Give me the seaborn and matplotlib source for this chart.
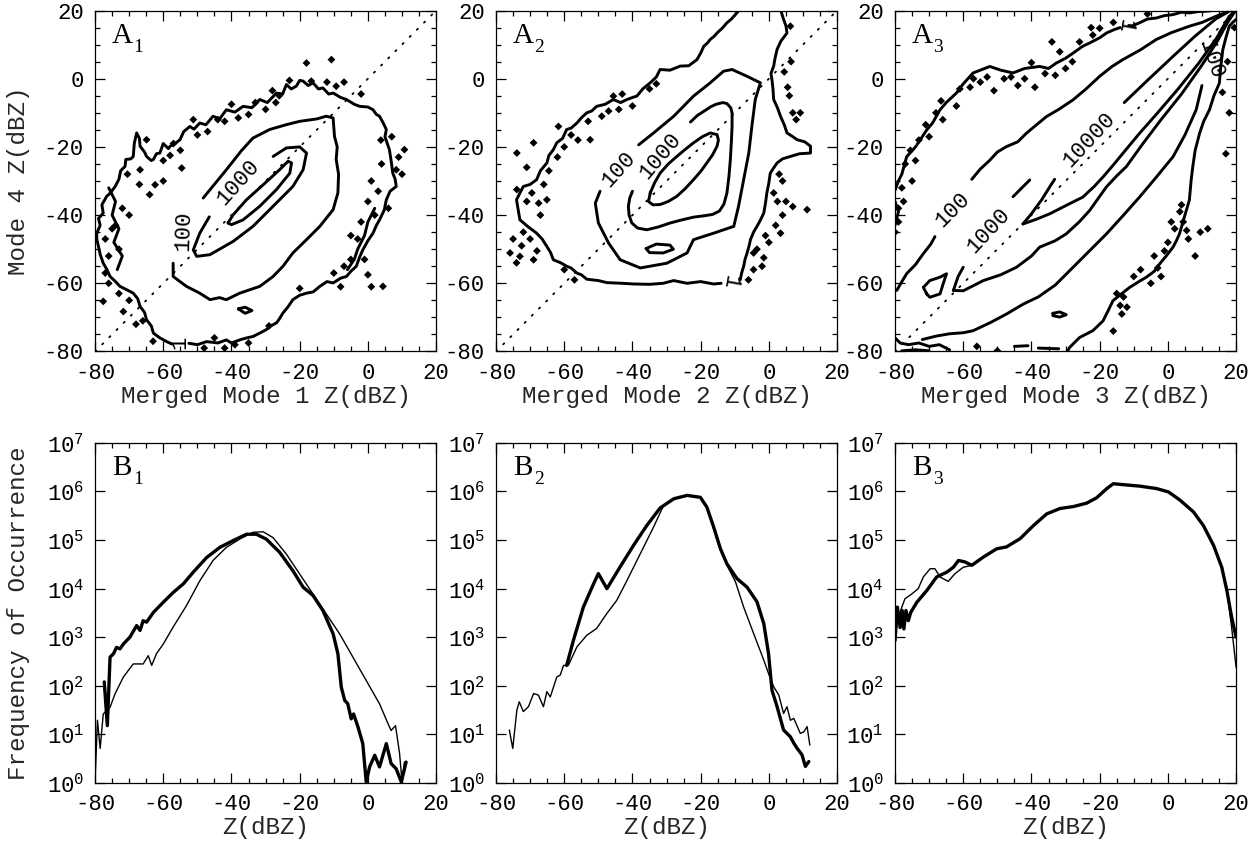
import numpy as np
import pandas as pd
import matplotlib
matplotlib.use("Agg")
import matplotlib.pyplot as plt
import seaborn as sns

# ---------------------------------------------------------------------------
# Joint-occurrence contours (Z in dBZ), one set of polylines per level
# ---------------------------------------------------------------------------
# Panel A1: Mode 4 vs merged Mode 1
A1_L10000 = [(-41.0, -42.3), (-39.5, -39.9), (-35.6, -35.5), (-30.7, -31.1), (-25.9, -26.7),
             (-23.4, -24.2), (-22.4, -24.7), (-22.9, -27.7), (-26.8, -32.5), (-31.7, -37.4),
             (-36.6, -41.4), (-40.0, -42.8), (-41.0, -42.3)]
A1_L1000 = [(-27.8, -22.8), (-23.9, -20.3), (-20.0, -20.0), (-18.0, -21.8), (-19.0, -26.7),
            (-22.0, -31.6), (-27.8, -37.4), (-33.7, -43.3), (-39.5, -47.7), (-46.3, -51.6),
            (-50.2, -52.1), (-51.2, -50.2), (-49.3, -45.3), (-46.5, -40.5)]
A1_L100 = [(-48.3, -35.0), (-41.5, -26.7), (-37.0, -21.0), (-33.7, -17.4), (-28.8, -14.9),
           (-24.0, -13.5), (-20.0, -12.5), (-15.0, -11.8), (-12.2, -11.0), (-10.2, -11.5),
           (-9.8, -16.9), (-9.0, -20.0), (-9.3, -23.7), (-8.6, -28.0), (-8.8, -33.5),
           (-10.2, -38.4), (-14.1, -43.3), (-18.0, -47.2), (-22.0, -51.1), (-24.9, -55.0),
           (-27.8, -58.0), (-31.7, -60.9), (-37.6, -62.9), (-41.5, -64.8), (-43.5, -64.2),
           (-46.3, -64.8), (-49.3, -62.9), (-53.2, -60.9), (-57.1, -58.0), (-57.1, -54.1)]
A1_L1 = [(-79.5, -45.3), (-78.5, -43.0), (-79.0, -41.0), (-77.6, -39.4), (-78.0, -37.0),
         (-76.6, -34.5), (-75.5, -33.5), (-74.1, -31.6), (-73.0, -29.5), (-72.5, -27.0),
         (-71.2, -25.7), (-71.0, -23.7), (-69.5, -23.5), (-68.8, -22.8), (-68.5, -19.0),
         (-67.8, -15.9), (-67.0, -17.5), (-66.8, -19.8), (-65.5, -21.5), (-64.9, -22.8),
         (-63.5, -24.0), (-62.9, -23.7), (-62.0, -22.0), (-61.0, -21.8), (-60.0, -19.0),
         (-58.5, -20.5), (-58.0, -19.8), (-56.5, -19.0), (-55.1, -17.9), (-54.0, -15.5),
         (-52.2, -14.0), (-51.0, -14.8), (-49.3, -13.0), (-47.5, -13.5), (-45.4, -11.0),
         (-43.5, -11.8), (-41.5, -9.1), (-39.0, -9.8), (-36.6, -8.1), (-34.0, -8.5),
         (-31.7, -6.1), (-29.5, -7.0), (-26.8, -4.2), (-25.0, -4.5), (-23.9, -1.7),
         (-22.5, -3.0), (-21.0, -2.2), (-20.0, -0.5), (-19.0, -0.7), (-17.5, -2.0),
         (-16.1, -1.2), (-14.5, -3.0), (-13.2, -2.7), (-11.5, -4.5), (-10.2, -4.2),
         (-8.0, -5.5), (-6.3, -6.1), (-4.0, -7.5), (-2.4, -8.1), (0.0, -8.3), (1.5, -9.1),
         (2.5, -10.5), (3.4, -11.0), (4.5, -13.0), (5.4, -14.9), (5.0, -17.0), (6.3, -20.8),
         (6.8, -24.0), (7.3, -27.7), (8.0, -29.5), (8.3, -31.6), (6.5, -33.0), (5.4, -35.5),
         (4.8, -38.5), (3.4, -41.4), (2.5, -43.0), (1.5, -45.3), (0.0, -47.5), (-1.5, -50.2),
         (-2.5, -52.5), (-3.4, -55.0), (-5.0, -56.5), (-6.3, -58.0), (-8.0, -58.5),
         (-10.2, -59.9), (-12.0, -59.5), (-14.1, -60.9), (-16.0, -62.5), (-18.0, -62.9),
         (-20.0, -63.5), (-22.0, -64.8), (-23.5, -67.0), (-24.9, -68.7), (-26.0, -70.5),
         (-26.8, -71.6), (-28.5, -72.5), (-29.8, -73.6), (-31.5, -74.5), (-33.7, -75.6),
         (-35.5, -76.0), (-37.6, -76.6), (-40.0, -77.5), (-41.5, -76.6), (-44.0, -77.5),
         (-47.3, -77.1), (-50.0, -78.0), (-52.5, -77.6)]
A1_L1_TAIL = [(-57.5, -77.8), (-59.0, -77.1), (-61.0, -76.0), (-62.9, -74.6), (-63.5, -72.5),
              (-64.9, -70.7), (-65.5, -68.5), (-66.8, -66.8), (-67.5, -64.5), (-68.8, -62.9),
              (-70.5, -62.0), (-72.7, -60.9), (-74.0, -59.5), (-75.6, -58.0), (-76.5, -56.0),
              (-77.6, -54.1), (-78.5, -51.5), (-79.0, -49.2), (-79.5, -47.0), (-79.5, -45.3)]
A1_L1_INNER = [[(-76.0, -32.0), (-74.0, -36.0), (-75.0, -40.0), (-73.0, -44.0), (-74.5, -48.0),
                (-72.0, -52.0), (-73.5, -56.0)],
               [(2.0, -38.0), (0.0, -42.0), (-1.0, -46.0), (-3.0, -50.0), (-4.0, -53.0), (-6.0, -56.0)],
               [(-38.0, -67.5), (-36.0, -67.0), (-34.0, -68.0), (-36.0, -68.8), (-38.0, -67.5)]]
A1_ISLANDS = [(-10.7, 5.6), (-18.0, 4.6), (-16.6, -0.7), (10.7, -20.8), (8.3, -26.7), (4.4, -60.9),
              (0.0, -57.5), (-71.7, -68.3), (-77.6, -65.3), (-62.4, -31.1), (-66.8, -26.7),
              (-64.9, -17.9), (-54.6, -26.2), (-51.2, -12.0), (-9.3, -2.2), (-2.0, -4.5),
              (-7.0, -1.0), (3.8, -18.0), (1.0, -30.0), (-2.0, -42.0), (-5.0, -46.0),
              (-75.0, -44.0), (-73.0, -50.0), (-70.0, -40.0), (-77.0, -57.0), (-68.0, -72.0),
              (-60.0, -30.0), (-45.0, -76.0), (-39.0, -78.0), (-29.0, -72.5), (-20.0, -61.5),
              (-26.0, -5.0), (-33.0, -7.0), (-44.0, -12.0), (-57.0, -19.0),
              (-60.0, -24.0), (-58.0, -22.5), (-55.0, -21.0), (-50.0, -16.5), (-47.0, -15.5),
              (-42.0, -12.5), (-38.0, -11.5), (-35.0, -10.5), (-30.0, -9.0), (-27.0, -7.0),
              (-40.0, -7.5), (-28.0, -3.5), (-23.0, -0.5), (-12.0, -1.0), (7.0, -17.0),
              (9.0, -23.0), (10.0, -28.0), (4.0, -25.0), (3.0, -33.0), (6.0, -38.0),
              (2.0, -40.0), (0.0, -36.0), (-3.0, -47.0), (-1.0, -53.0), (-5.0, -53.0),
              (-7.0, -55.0), (-10.0, -57.0), (-8.0, -61.0), (1.0, -61.0), (-77.0, -47.0),
              (-76.0, -52.0), (-74.0, -43.0), (-72.0, -38.0), (-76.0, -60.0), (-73.0, -63.0),
              (-70.0, -65.0), (-66.0, -71.0), (-63.0, -77.0), (-48.0, -79.0), (-42.0, -79.0),
              (-35.0, -77.5), (-67.0, -31.0), (-70.5, -28.0), (-64.0, -34.0)]

# Panel A2: Mode 4 vs merged Mode 2
A2_L10000 = [(-34.8, -33.5), (-33.5, -30.5), (-31.9, -27.7), (-29.5, -25.0), (-27.0, -22.8),
             (-24.5, -20.7), (-22.1, -18.8), (-19.5, -17.0), (-17.2, -15.9), (-15.2, -16.4),
             (-14.8, -18.0), (-15.2, -19.8), (-16.5, -22.3), (-18.2, -24.7), (-20.0, -27.2),
             (-22.1, -29.6), (-24.5, -32.2), (-27.0, -34.5), (-29.5, -36.0), (-31.9, -36.9),
             (-34.0, -37.0), (-35.3, -36.0), (-34.8, -33.5)]
A2_L1000 = [(-23.0, -12.7), (-21.0, -10.8), (-19.0, -9.5), (-17.0, -8.2), (-15.5, -7.5),
            (-13.5, -7.0), (-12.3, -7.3), (-11.2, -8.5), (-10.8, -10.0), (-10.8, -14.0),
            (-11.0, -18.5), (-11.3, -23.7), (-11.7, -28.5), (-12.3, -33.5), (-13.2, -36.8),
            (-14.5, -38.8), (-16.5, -39.8), (-19.0, -40.2), (-22.1, -40.6), (-25.5, -41.4),
            (-28.9, -42.3), (-32.5, -43.5), (-35.8, -44.3), (-38.5, -43.8), (-40.2, -42.3),
            (-41.0, -40.0), (-41.2, -37.4), (-40.8, -35.0), (-40.0, -33.0)]
A2_L1000_ISLAND = [(-36.0, -49.8), (-33.0, -48.5), (-29.0, -48.8), (-28.0, -50.0), (-31.0, -51.1),
                   (-35.0, -51.0), (-36.0, -49.8)]
A2_L100 = [(-38.2, -19.4), (-33.8, -15.9), (-27.9, -11.0), (-22.1, -5.1), (-17.2, -1.2),
           (-13.3, 2.2), (-10.8, 2.7), (-6.4, 0.7), (-2.5, -1.2), (-4.0, -6.1), (-5.0, -14.0),
           (-5.9, -21.8), (-7.4, -29.6), (-8.9, -37.4), (-10.3, -43.3), (-16.2, -45.3),
           (-22.1, -47.2), (-24.0, -51.1), (-29.9, -54.1), (-37.7, -55.5), (-43.6, -53.1),
           (-47.0, -48.2), (-50.0, -42.3), (-50.9, -36.5), (-49.5, -33.0)]
A2_L1_LEFT = [(-14.0, -60.0), (-16.2, -60.2), (-20.0, -59.5), (-24.0, -60.0), (-27.9, -59.2),
              (-31.0, -60.0), (-35.0, -60.3), (-39.7, -60.2), (-43.0, -60.0), (-47.5, -59.8),
              (-50.0, -59.2), (-53.4, -58.8), (-55.0, -57.5), (-56.3, -57.0), (-58.0, -55.5),
              (-59.3, -55.0), (-61.0, -54.0), (-63.2, -53.1), (-64.0, -51.0), (-65.1, -49.2),
              (-66.5, -47.0), (-68.1, -45.3), (-70.5, -43.5), (-73.0, -41.4), (-73.5, -38.5),
              (-74.0, -35.5), (-73.0, -33.5), (-72.0, -31.6), (-70.0, -31.0), (-68.1, -29.6),
              (-67.0, -27.0), (-65.1, -24.7), (-64.5, -22.5), (-63.2, -20.8), (-62.2, -18.8),
              (-60.5, -17.5), (-59.3, -14.9), (-58.0, -14.5), (-56.3, -13.0), (-55.0, -11.5),
              (-53.4, -10.0), (-52.0, -9.5), (-50.5, -8.1), (-48.0, -7.5), (-45.6, -6.1),
              (-43.5, -7.0), (-41.6, -6.1), (-40.0, -5.5), (-38.7, -5.1), (-37.0, -3.0),
              (-34.8, -1.2), (-33.0, 0.5), (-31.9, 2.7), (-29.0, 2.5), (-26.0, 3.7),
              (-23.5, 3.8), (-21.1, 5.6), (-20.0, 7.5), (-19.1, 9.5), (-18.0, 10.5),
              (-17.2, 11.5), (-16.0, 12.5), (-15.2, 13.4), (-13.5, 15.0), (-12.3, 16.4),
              (-11.0, 17.5), (-9.4, 19.3), (-8.4, 20.5)]
A2_L1_RIGHT = [(3.4, 20.5), (3.8, 19.0), (4.3, 17.4), (5.0, 15.5), (5.3, 13.4), (3.5, 11.0),
               (2.4, 8.6), (1.8, 6.0), (1.4, 3.7), (0.6, 1.5), (0.9, -0.3), (1.2, -3.0),
               (1.4, -6.1), (2.5, -8.5), (3.4, -11.0), (4.5, -13.5), (5.3, -15.9), (7.0, -17.0),
               (8.3, -17.9), (10.5, -18.5), (12.2, -19.8), (12.2, -21.8), (9.0, -22.0),
               (6.3, -22.8), (4.0, -23.5), (2.4, -24.7), (1.5, -26.0), (0.4, -27.7),
               (0.0, -30.5), (-0.6, -33.5), (-1.0, -36.5), (-1.5, -39.4), (-2.5, -41.5),
               (-3.5, -43.3), (-4.5, -45.0), (-5.4, -47.2), (-5.8, -49.0), (-6.4, -51.1),
               (-7.0, -53.0), (-7.4, -55.0), (-8.0, -57.0), (-8.4, -59.0)]
A2_ISLANDS = [(-73.9, -21.8), (-69.0, -18.8), (-73.9, -32.5), (-73.0, -52.1), (-75.9, -51.1),
              (-69.0, -53.1), (-65.1, -35.5), (-61.7, -14.0), (-52.4, -17.9), (-45.6, -5.1),
              (9.2, -10.0), (11.2, -38.4), (3.4, -45.3), (-4.5, -51.1), (1.4, -33.5), (6.3, 15.4),
              (-71.0, -26.0), (-70.0, -47.0), (-67.0, -40.0), (-72.0, -45.0), (-66.0, -31.0),
              (-62.0, -23.0), (-56.0, -18.0), (-49.0, -11.0), (-40.0, -8.0), (-35.0, -3.0),
              (6.0, -5.0), (7.0, -10.0), (3.0, -28.0), (5.0, -36.0), (4.0, -40.0), (0.0, -48.0),
              (-2.0, -55.0), (-6.0, -59.0), (-60.0, -56.0), (-57.0, -59.0), (-44.0, -9.0),
              (-75.0, -47.0), (-72.5, -49.0), (-68.0, -50.5), (-74.0, -54.0), (-71.0, -36.0),
              (-69.5, -33.5), (-67.5, -36.5), (-64.5, -27.0), (-60.0, -20.0), (-58.0, -16.5),
              (-53.0, -12.5), (-47.0, -9.5), (-43.0, -4.5), (-33.0, -1.5), (4.5, 2.0), (5.5, -2.5),
              (8.0, -12.0), (4.0, -30.0), (2.5, -36.0), (7.0, -37.5), (2.0, -43.0), (-1.0, -46.0),
              (-3.5, -50.0), (-1.5, -52.5), (-4.5, -56.0), (6.5, 5.0)]

# Panel A3: Mode 4 vs merged Mode 3
A3_L10000_UP = [[(-42.5, -42.6), (-40.0, -39.6), (-37.0, -35.5), (-34.5, -31.5), (-33.2, -29.5)],
                [(-12.8, -7.0), (-6.0, -0.5), (2.0, 7.0), (8.0, 12.5), (14.0, 17.5), (17.5, 19.5)]]
A3_L10000_LOW = [(-42.5, -42.6), (-38.5, -41.2), (-34.6, -39.6), (-29.5, -37.0), (-24.9, -34.7),
                 (-21.5, -31.5), (-19.0, -28.8), (-16.0, -25.3), (-13.2, -21.9), (-8.3, -16.0),
                 (-3.0, -10.0), (3.0, -3.0), (9.0, 4.5), (14.0, 11.5), (17.5, 17.0), (19.0, 19.3)]
A3_L1000_UP = [[(-62.9, -62.1), (-61.5, -58.0), (-60.0, -55.3)],
               [(-45.4, -34.6), (-40.5, -29.7)]]
A3_L1000_LOW = [(-62.9, -62.1), (-60.0, -62.2), (-54.1, -59.2), (-49.0, -57.5), (-44.4, -55.3),
                (-40.0, -52.0), (-37.6, -49.4), (-33.0, -47.5), (-29.8, -45.5), (-26.0, -42.0),
                (-22.9, -38.6), (-20.0, -34.5), (-18.0, -31.7), (-15.0, -28.5), (-12.2, -25.8),
                (-7.3, -19.0), (-2.0, -12.0), (4.0, -4.5), (10.0, 4.0), (14.5, 11.0), (17.5, 16.5),
                (19.5, 19.5)]
A3_L100_UP = [[(-79.5, -62.1), (-78.0, -59.5), (-76.6, -57.2), (-74.0, -54.5), (-71.7, -51.3),
               (-69.5, -48.5), (-68.3, -46.3)],
              [(-57.5, -29.5), (-55.0, -26.5), (-52.2, -23.9), (-50.0, -21.5), (-47.3, -19.9),
               (-44.0, -18.5), (-41.5, -16.0), (-38.5, -13.5), (-35.6, -11.1), (-32.0, -9.0),
               (-27.8, -6.2), (-24.0, -3.0), (-20.0, 0.7), (-16.5, 3.5), (-13.2, 5.6), (-8.0, 8.5),
               (-3.4, 11.5), (1.0, 13.5), (6.3, 15.4), (10.0, 16.5), (14.1, 18.3), (18.0, 19.8)]]
A3_L100_LOW = [[(-72.0, -76.5), (-68.0, -75.5), (-64.0, -74.8), (-60.0, -74.5), (-57.1, -73.9),
                (-52.0, -71.5), (-47.3, -69.0), (-42.4, -66.1), (-38.0, -64.0), (-33.0, -60.5),
                (-27.8, -55.3), (-23.0, -50.5), (-18.0, -45.5), (-13.0, -40.0), (-8.3, -34.7),
                (-3.5, -29.0), (1.5, -22.9), (5.0, -16.5), (8.3, -9.1), (10.0, -2.0)],
               [(15.1, 13.4), (18.0, 18.3), (20.0, 20.0)]]
A3_L100_LOOP = [(-70.7, -63.1), (-71.7, -61.2), (-69.8, -59.2), (-66.8, -58.2), (-64.9, -57.2),
                (-65.9, -60.2), (-66.8, -63.1), (-69.8, -64.1), (-70.7, -63.1)]
A3_L1_UP = [(-80.0, -32.7), (-79.0, -30.0), (-78.0, -28.0), (-76.6, -22.9), (-74.0, -20.0),
            (-72.0, -17.0), (-70.7, -15.0), (-69.0, -13.0), (-66.8, -9.1), (-65.0, -7.0),
            (-62.0, -4.2), (-60.0, -1.5), (-57.1, 1.7), (-55.0, 2.5), (-52.2, 3.6), (-49.0, 2.5),
            (-45.4, 1.7), (-42.0, 3.0), (-37.6, 3.6), (-35.0, 3.0), (-32.7, 4.6), (-30.0, 6.0),
            (-27.8, 7.5), (-25.0, 9.5), (-22.9, 10.5), (-20.0, 12.0), (-18.0, 13.4),
            (-15.5, 14.5), (-14.0, 15.0)]
A3_L1_UP_TAIL = [(-11.5, 15.6), (-10.5, 15.5), (-8.3, 16.4), (-6.0, 17.5), (-3.4, 17.8),
                 (-1.0, 18.5), (1.5, 18.8), (4.0, 19.5), (6.3, 19.3), (9.0, 19.7), (11.2, 19.8),
                 (15.0, 20.2)]
A3_L1_LOW = [(-29.5, -80.0), (-28.8, -78.8), (-25.9, -75.9), (-22.0, -73.9), (-19.0, -71.0),
             (-17.5, -68.0), (-16.1, -65.1), (-13.5, -63.0), (-11.2, -61.2), (-8.5, -59.5),
             (-6.3, -58.2), (-4.0, -56.5), (-2.4, -54.3), (-0.5, -52.0), (1.5, -49.4),
             (2.5, -47.5), (3.4, -45.5), (5.0, -40.0), (6.3, -35.6), (6.8, -30.0), (7.3, -25.8),
             (8.0, -21.0), (9.3, -16.0), (10.5, -12.5), (12.2, -9.1), (13.5, -5.0), (15.1, -1.3),
             (15.5, 3.5), (16.1, 8.5), (17.0, 12.0), (18.0, 15.4), (19.0, 16.5), (20.0, 17.4)]
A3_L1_BITS = [[(-80.0, -76.0), (-78.5, -77.5), (-76.0, -78.0), (-73.0, -77.5), (-70.0, -78.5),
               (-67.0, -78.0), (-64.0, -79.5)],
              [(-78.0, -79.8), (-74.0, -79.5), (-70.0, -79.8)],
              [(-80.0, -36.0), (-79.0, -39.0), (-80.0, -43.0)],
              [(-45.0, -78.5), (-41.0, -78.3)], [(-38.0, -79.0), (-32.0, -79.2)],
              [(-33.7, -68.8), (-31.7, -68.4), (-29.8, -69.2), (-31.7, -69.9), (-33.7, -69.5),
               (-33.7, -68.8)]]
A3_ISLANDS = [(-34.0, 10.8), (-31.7, 7.9), (-25.9, 10.8), (-22.5, 15.0), (-22.0, 12.8),
              (-40.0, 4.7), (-48.0, 0.0), (-44.0, -2.0), (-55.0, -1.0), (-58.0, -2.5),
              (-61.0, -3.0), (-66.0, -12.0), (-70.0, -17.0), (-73.0, -18.0), (-77.0, -25.0),
              (-79.0, -38.0), (-79.0, -42.0), (-75.0, -30.0), (-74.0, -24.0), (-80.0, -45.0),
              (-62.0, -8.0), (-39.0, -2.5), (-30.0, 3.0), (-51.0, -3.5), (3.5, -39.0),
              (4.5, -42.0), (2.0, -44.0), (6.0, -47.0), (8.0, -52.0), (-2.0, -58.0),
              (-5.0, -60.0), (-13.0, -64.0), (-14.0, -66.5), (-12.0, -67.0), (-16.0, -74.0),
              (9.5, -45.0), (11.7, -44.0), (0.0, -48.0), (-3.0, -55.5), (18.0, -10.0),
              (17.0, -22.0), (19.5, 15.0), (-56.0, -78.5), (-50.0, -79.8),
              (-57.0, 0.0), (-53.0, 0.5), (-46.0, 0.5), (-42.0, 0.0), (-36.0, 1.5), (-33.0, 1.0),
              (-28.0, 5.0), (-68.0, -10.0), (-71.0, -13.5), (-75.5, -21.0), (-78.0, -32.0),
              (-77.5, -36.0), (-66.5, -6.5), (-20.0, 14.8), (-16.0, 16.5), (-6.0, 19.0),
              (4.0, -37.0), (1.0, -42.0), (5.5, -44.5), (-1.0, -50.5), (-4.0, -52.0),
              (-8.0, -56.0), (-10.0, -58.0), (-15.0, -63.0), (-13.5, -69.0), (16.0, -4.0),
              (17.5, 5.0)]

# Contour labels: (text, x, y, rotation)
A1_LABELS = [("1000", -38.0, -30.3, 48), ("100", -54.0, -44.5, 88), ("1", -55.0, -77.2, 90)]
A2_LABELS = [("100", -44.0, -26.5, 48), ("1000", -31.8, -22.8, 50), ("1", -11.5, -59.6, -100)]
A3_LABELS = [("100", -63.0, -38.5, 45), ("1000", -52.6, -44.6, 47), ("10000", -23.0, -18.0, 47),
             ("100", 12.6, 5.8, -72), ("1", -12.8, 15.5, -100)]

# ---------------------------------------------------------------------------
# Frequency of occurrence (log10 counts) for each merged mode (thick) and Mode 4 (thin)
# ---------------------------------------------------------------------------
B1_THICK_Z = [-77.3, -76.4, -75.6, -74.6, -73.7, -72.7, -71.7, -69.8, -67.8, -66.8, -65.9, -64.9,
              -62.9, -60.0, -57.1, -54.1, -51.2, -47.3, -43.4, -39.5, -35.6, -32.7, -29.8, -25.9,
              -22.0, -19.0, -16.1, -13.2, -10.2, -8.8, -7.8, -6.8, -5.9, -4.9, -4.2, -2.9, -1.5,
              -0.5, 0.5, 2.0, 3.4, 5.4, 6.8, 8.3, 9.8, 11.2]
B1_THICK_LOG = [2.08, 1.18, 2.59, 2.66, 2.79, 2.76, 2.86, 3.00, 3.24, 3.14, 3.34, 3.31, 3.51, 3.72,
                3.92, 4.10, 4.34, 4.64, 4.85, 4.99, 5.12, 5.12, 5.02, 4.75, 4.37, 4.03, 3.86, 3.55,
                3.07, 2.66, 1.97, 1.70, 1.63, 1.32, 1.42, 1.15, 0.81, 0.02, 0.33, 0.57, 0.33, 0.81,
                0.40, 0.29, 0.02, 0.43]
B1_THIN_Z = [-80.0, -79.3, -78.5, -77.6, -76.6, -75.6, -74.1, -71.7, -68.8, -65.9, -64.4, -63.4,
             -62.0, -60.0, -57.1, -53.2, -49.3, -45.4, -41.5, -37.6, -33.7, -30.7, -27.8, -23.9,
             -20.0, -16.1, -12.2, -8.3, -4.4, -0.5, 3.4, 5.9, 6.8, 8.1, 9.3, 10.0, 10.7]
B1_THIN_LOG = [0.02, 1.29, 0.71, 1.42, 1.49, 1.56, 1.84, 2.18, 2.45, 2.45, 2.62, 2.42, 2.66, 2.86,
               3.21, 3.65, 4.16, 4.58, 4.85, 5.02, 5.16, 5.17, 5.05, 4.71, 4.30, 3.89, 3.48, 3.07,
               2.59, 2.11, 1.63, 1.22, 1.08, 1.18, 0.60, 0.02, 0.43]

B2_THICK_Z = [-59.3, -57.3, -54.4, -51.4, -50.0, -47.5, -43.6, -39.7, -35.8, -31.9, -27.9, -24.0,
              -20.1, -18.2, -16.2, -14.2, -12.3, -9.4, -6.4, -3.5, -1.5, -0.1, 0.9, 2.4, 4.3, 6.3,
              7.3, 8.3, 9.7, 10.7, 11.7]
B2_THICK_LOG = [2.42, 2.94, 3.62, 4.10, 4.31, 4.00, 4.45, 4.89, 5.30, 5.66, 5.85, 5.92, 5.88, 5.68,
                5.27, 4.82, 4.51, 4.21, 4.03, 3.73, 3.28, 2.66, 1.91, 1.57, 1.09, 0.95, 0.82, 0.71,
                0.58, 0.34, 0.44]
B2_THIN_Z = [-76.1, -75.1, -73.9, -73.2, -72.0, -70.5, -69.0, -67.6, -66.1, -65.1, -64.1, -62.2,
             -61.2, -60.2, -58.8, -56.3, -53.4, -50.5, -47.5, -44.6, -41.6, -37.7, -33.8, -30.9,
             -27.9, -24.0, -20.1, -18.2, -16.2, -14.2, -12.3, -9.8, -7.4, -4.5, -1.5, -0.1, 1.4,
             2.9, 4.3, 5.3, 6.3, 7.3, 9.2, 10.2, 11.2, 12.0]
B2_THIN_LOG = [1.09, 0.71, 1.50, 1.67, 1.47, 1.57, 1.84, 1.81, 1.57, 1.88, 1.77, 2.18, 2.22, 2.42,
               2.42, 2.80, 3.04, 3.18, 3.49, 3.76, 4.17, 4.72, 5.27, 5.71, 5.84, 5.91, 5.88, 5.66,
               5.23, 4.79, 4.48, 4.14, 3.62, 3.08, 2.53, 2.25, 1.98, 1.81, 1.43, 1.57, 1.29, 1.33,
               1.02, 1.05, 1.16, 0.78]

B3_THICK_Z = [-80.0, -79.3, -78.5, -77.9, -77.4, -76.8, -76.1, -75.4, -73.6, -70.7, -67.8, -64.8,
              -62.9, -61.4, -59.5, -57.5, -54.1, -50.2, -47.3, -43.3, -39.4, -35.5, -31.6, -27.7,
              -23.8, -20.9, -17.9, -16.0, -13.0, -8.2, -3.3, 0.2, 3.6, 7.5, 10.4, 13.4, 15.8, 17.3,
              18.7, 20.0]
B3_THICK_LOG = [2.93, 3.62, 3.20, 3.55, 3.17, 3.55, 3.34, 3.51, 3.72, 3.96, 4.24, 4.34, 4.44, 4.58,
                4.55, 4.48, 4.65, 4.82, 4.86, 5.03, 5.30, 5.54, 5.65, 5.69, 5.76, 5.87, 6.06, 6.16,
                6.14, 6.11, 6.06, 5.99, 5.82, 5.58, 5.30, 4.89, 4.44, 3.96, 3.41, 3.00]
B3_THIN_Z = [-80.0, -79.3, -78.0, -77.1, -75.1, -73.2, -71.7, -69.7, -68.3, -66.8, -64.4, -62.4,
             -60.0, -57.5, -54.1, -50.2, -47.3, -43.3, -39.4, -35.5, -31.6, -27.7, -23.8, -20.9,
             -17.9, -16.0, -13.0, -8.2, -3.3, 0.2, 3.6, 7.5, 10.4, 13.4, 15.8, 17.3, 18.7, 20.0]
B3_THIN_LOG = [2.93, 3.34, 3.62, 3.79, 3.89, 4.00, 4.24, 4.41, 4.41, 4.24, 4.15, 4.31, 4.44, 4.48,
               4.65, 4.82, 4.86, 5.03, 5.30, 5.54, 5.65, 5.69, 5.76, 5.87, 6.06, 6.16, 6.14, 6.11,
               6.06, 5.99, 5.82, 5.58, 5.30, 4.89, 4.44, 3.96, 3.20, 2.38]

TOP_XLABELS = ["Merged Mode 1 Z(dBZ)", "Merged Mode 2 Z(dBZ)", "Merged Mode 3 Z(dBZ)"]
PANEL_SUBS = ["1", "2", "3"]
Z_TICKS = [-80, -60, -40, -20, 0, 20]
DECADES = [0, 1, 2, 3, 4, 5, 6, 7]

# ---------------------------------------------------------------------------
sns.set_theme(style="ticks")
plt.rcParams["font.family"] = ["Liberation Mono", "DejaVu Sans Mono"]
plt.rcParams["axes.unicode_minus"] = False
plt.rcParams["mathtext.fontset"] = "custom"
plt.rcParams["mathtext.rm"] = "Liberation Mono"

MONO = "Liberation Mono"
SERIF = "Liberation Serif"
TICK_FS = 16
LABEL_FS = 17.5
CLW = 2.1

fig = plt.figure(figsize=(12.59, 8.48), dpi=100)
lefts = [0.0755, 0.3940, 0.7109]
width = 0.2709
top_axes = [fig.add_axes([l, 0.5855, width, 0.4021]) for l in lefts]
bot_axes = [fig.add_axes([l, 0.0767, width, 0.4010]) for l in lefts]


def style_axes(ax, logy=False):
    for s in ax.spines.values():
        s.set_linewidth(0.9)
        s.set_color("black")
    ax.set_xlim(-80, 20)
    ax.set_xticks(Z_TICKS)
    ax.set_xticks(np.arange(-80, 21, 5), minor=True)
    ax.tick_params(which="both", direction="in", top=True, right=True, colors="black",
                   labelsize=TICK_FS, width=0.9)
    ax.tick_params(which="major", length=7, pad=8)
    ax.tick_params(which="minor", length=3.5)
    if not logy:
        ax.set_ylim(-80, 20)
        ax.set_yticks(Z_TICKS)
        ax.set_yticks(np.arange(-80, 21, 5), minor=True)
    ax.set_facecolor("white")


def panel_tag(ax, letter, sub):
    ax.text(0.05, 0.925, letter, transform=ax.transAxes, fontsize=21, family=SERIF,
            va="center", ha="left", color="black")
    ax.text(0.112, 0.893, sub, transform=ax.transAxes, fontsize=14, family=SERIF,
            va="center", ha="left", color="black")


def draw_path(ax, pts, lw=CLW):
    arr = np.asarray(pts, dtype=float)
    ax.plot(arr[:, 0], arr[:, 1], color="black", lw=lw, solid_joinstyle="round",
            solid_capstyle="round")


def draw_islands(ax, pts):
    arr = np.asarray(pts, dtype=float)
    sns.scatterplot(x=arr[:, 0], y=arr[:, 1], ax=ax, marker="D", s=16, color="black",
                    edgecolor="none", legend=False)


def draw_labels(ax, labels):
    for txt, x, y, rot in labels:
        ax.text(x, y, txt, fontsize=16, family=MONO, rotation=rot, rotation_mode="anchor",
                ha="center", va="center", color="black")


def place_ylabel(ax, text):
    ax.set_ylabel(text, fontsize=LABEL_FS, va="center")
    ax.yaxis.set_label_coords(-0.225, 0.5)


top_paths = [
    [A1_L10000, A1_L1000, A1_L100, A1_L1, A1_L1_TAIL] + A1_L1_INNER,
    [A2_L10000, A2_L1000, A2_L1000_ISLAND, A2_L100, A2_L1_LEFT, A2_L1_RIGHT],
    A3_L10000_UP + [A3_L10000_LOW] + A3_L1000_UP + [A3_L1000_LOW] + A3_L100_UP + A3_L100_LOW
    + [A3_L100_LOOP, A3_L1_UP, A3_L1_UP_TAIL, A3_L1_LOW] + A3_L1_BITS,
]
top_islands = [A1_ISLANDS, A2_ISLANDS, A3_ISLANDS]
top_labels = [A1_LABELS, A2_LABELS, A3_LABELS]

for i, ax in enumerate(top_axes):
    style_axes(ax)
    # one-to-one reference line
    ax.plot([-80, 20], [-80, 20], color="black", lw=1.3, ls=(0, (0.8, 4.8)),
            dash_capstyle="round")
    for p in top_paths[i]:
        draw_path(ax, p)
    draw_islands(ax, top_islands[i])
    draw_labels(ax, top_labels[i])
    ax.set_xlabel(TOP_XLABELS[i], fontsize=LABEL_FS, labelpad=1)
    ax.set_ylabel("")
    panel_tag(ax, "A", PANEL_SUBS[i])
place_ylabel(top_axes[0], "Mode 4 Z(dBZ)")

b_series = [
    (B1_THICK_Z, B1_THICK_LOG, B1_THIN_Z, B1_THIN_LOG),
    (B2_THICK_Z, B2_THICK_LOG, B2_THIN_Z, B2_THIN_LOG),
    (B3_THICK_Z, B3_THICK_LOG, B3_THIN_Z, B3_THIN_LOG),
]
for i, ax in enumerate(bot_axes):
    tz, tl, nz, nl = b_series[i]
    thick = pd.DataFrame({"z": tz, "count": 10.0 ** np.asarray(tl)})
    thin = pd.DataFrame({"z": nz, "count": 10.0 ** np.asarray(nl)})
    sns.lineplot(data=thin, x="z", y="count", ax=ax, color="black", lw=1.0,
                 estimator=None, sort=False)
    sns.lineplot(data=thick, x="z", y="count", ax=ax, color="black", lw=2.4,
                 estimator=None, sort=False)
    ax.set_yscale("log")
    style_axes(ax, logy=True)
    ax.set_ylim(1, 1e7)
    ax.set_yticks([10.0 ** d for d in DECADES])
    ax.set_yticklabels([r"$\mathregular{10^{%d}}$" % d for d in DECADES])
    ax.yaxis.set_minor_locator(matplotlib.ticker.NullLocator())
    ax.set_xlabel("Z(dBZ)", fontsize=LABEL_FS, labelpad=1)
    ax.set_ylabel("")
    panel_tag(ax, "B", PANEL_SUBS[i])
place_ylabel(bot_axes[0], "Frequency of Occurrence")

fig.savefig("out.png", dpi=100, facecolor="white")
